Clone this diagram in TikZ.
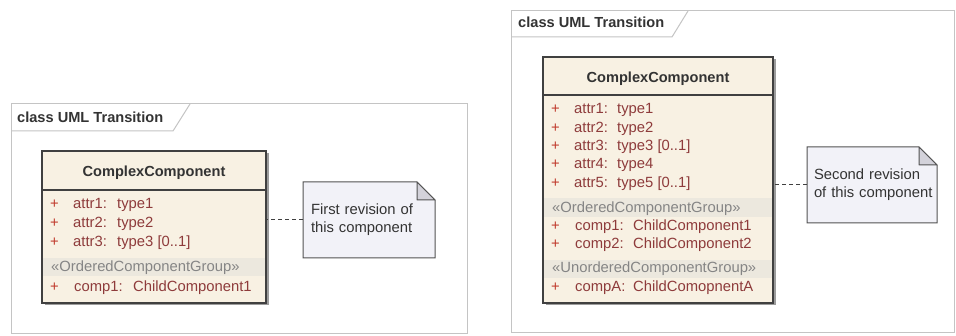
\documentclass[tikz,border=0pt]{standalone}
\usepackage{fontspec}
\setmainfont{Liberation Sans}
\usetikzlibrary{calc,shadows}
\definecolor{clsfill}{HTML}{F8F1E3}
\definecolor{bandfill}{HTML}{ECE8DE}
\definecolor{attrc}{HTML}{8E3B3B}
\definecolor{plusc}{HTML}{C0392B}
\definecolor{grpc}{HTML}{858585}
\definecolor{notefill}{HTML}{F2F2F8}
\definecolor{foldfill}{HTML}{D3D2DA}
\definecolor{framec}{HTML}{C4C4C4}
\definecolor{borderc}{HTML}{404040}
\definecolor{titlec}{HTML}{333333}
\tikzset{
  txt/.style={font=\fontsize{14.8}{18}\selectfont, inner sep=0pt, anchor=base west},
  plusmark/.style={txt, text=plusc},
  attrtxt/.style={txt, text=attrc},
  grptxt/.style={txt, text=grpc},
  frametitle/.style={txt, font=\fontsize{14.6}{18}\selectfont\bfseries, text=titlec},
  clstitle/.style={txt, anchor=base, font=\fontsize{14.6}{18}\selectfont\bfseries, text=titlec},
  framebox/.style={draw=framec, line width=1pt, inner sep=0pt, outer sep=0pt, anchor=north west},
  clsbox/.style={draw=borderc, fill=clsfill, line width=1.4pt, inner sep=0pt, outer sep=0pt, anchor=north west,
     drop shadow={shadow xshift=2.5pt, shadow yshift=-2.5pt, fill=black!55, opacity=0.7}},
  notebox/.style={inner sep=0pt, outer sep=0pt, anchor=north west, align=left,
     font=\fontsize{14.8}{18}\selectfont, text=black!80},
  noteline/.style={draw=borderc!90, fill=notefill, line width=1pt},
  foldline/.style={draw=borderc!90, fill=foldfill, line width=1pt, line join=round},
  link/.style={draw=borderc, line width=1pt, dash pattern=on 4pt off 3pt},
  band/.style={fill=bandfill}
}
\newcommand{\umlrow}[7]{%
  \node[plusmark] (#1p) at (#2,#5) {+};
  \node[attrtxt] (#1a) at (#3,#5) {#6};
  \node[attrtxt] (#1b) at (#4,#5) {#7};
}
\begin{document}
\begin{tikzpicture}[x=1pt,y=-1pt]
\useasboundingbox (0,0) rectangle (956,336);
\fill[white] (0,0) rectangle (956,336);

% ---------- left frame ----------
\node[framebox, minimum width=456pt, minimum height=230pt] (frm1) at (11,104) {};
\draw[framec, line width=1pt] (11,131) -- (173,131) -- (190,104);
\node[frametitle] (ft1) at (17,123) {class UML Transition};

\node[clsbox, minimum width=224pt, minimum height=152pt] (cls1) at (42,151) {};
\fill[band] (43,258) rectangle (265,276);
\draw[borderc, line width=1.2pt] (cls1.west |- 0,190) -- (cls1.east |- 0,190);
\draw[borderc, line width=1.4pt] (cls1.north west) rectangle (cls1.south east);
\node[clstitle] (ct1) at (154,177) {ComplexComponent};
\umlrow{l1}{50}{73}{117}{209}{attr1:}{type1}
\umlrow{l2}{50}{73}{117}{228}{attr2:}{type2}
\umlrow{l3}{50}{73}{117}{247}{attr3:}{type3 [0..1]}
\node[grptxt] (lg1) at (51,272) {«OrderedComponentGroup»};
\umlrow{l4}{50}{74}{133}{292}{comp1:}{ChildComponent1}

\node[notebox, minimum width=132pt, minimum height=76pt] (note1) at (303,182) {};
\draw[noteline] (note1.north west) -- ([xshift=-18pt]note1.north east) -- ([yshift=-18pt]note1.north east) -- (note1.south east) -- (note1.south west) -- cycle;
\draw[foldline] ([xshift=-18pt]note1.north east) -- ([xshift=-18pt,yshift=-18pt]note1.north east) -- ([yshift=-18pt]note1.north east) -- cycle;
\node[notebox, text width=116pt, anchor=center] (note1t) at (note1.center) {First revision of\\this component};
\draw[link] (note1.west) -- (note1.west -| cls1.east);

% ---------- right frame ----------
\node[framebox, minimum width=443pt, minimum height=322pt] (frm2) at (511,11) {};
\draw[framec, line width=1pt] (511,37) -- (672,37) -- (688,11);
\node[frametitle] (ft2) at (518,28) {class UML Transition};

\node[clsbox, minimum width=230pt, minimum height=246pt] (cls2) at (543,57) {};
\fill[band] (544,198) rectangle (772,217);
\fill[band] (544,260) rectangle (772,278);
\draw[borderc, line width=1.2pt] (cls2.west |- 0,95) -- (cls2.east |- 0,95);
\draw[borderc, line width=1.4pt] (cls2.north west) rectangle (cls2.south east);
\node[clstitle] (ct2) at (658,83) {ComplexComponent};
\umlrow{r1}{551}{574}{617}{114}{attr1:}{type1}
\umlrow{r2}{551}{574}{617}{133}{attr2:}{type2}
\umlrow{r3}{551}{574}{617}{151}{attr3:}{type3 [0..1]}
\umlrow{r4}{551}{574}{617}{169}{attr4:}{type4}
\umlrow{r5}{551}{574}{617}{188}{attr5:}{type5 [0..1]}
\node[grptxt] (rg1) at (552,213) {«OrderedComponentGroup»};
\umlrow{r6}{551}{575}{633}{231}{comp1:}{ChildComponent1}
\umlrow{r7}{551}{575}{633}{249}{comp2:}{ChildComponent2}
\node[grptxt] (rg2) at (552,273) {«UnorderedComponentGroup»};
\umlrow{r8}{551}{575}{633}{292}{compA:}{ChildComopnentA}

\node[notebox, minimum width=130pt, minimum height=76pt] (note2) at (807,147) {};
\draw[noteline] (note2.north west) -- ([xshift=-18pt]note2.north east) -- ([yshift=-18pt]note2.north east) -- (note2.south east) -- (note2.south west) -- cycle;
\draw[foldline] ([xshift=-18pt]note2.north east) -- ([xshift=-18pt,yshift=-18pt]note2.north east) -- ([yshift=-18pt]note2.north east) -- cycle;
\node[notebox, text width=120pt, anchor=center] (note2t) at ([xshift=2pt]note2.center) {Second revision\\of this component};
\draw[link] (note2.west) -- (note2.west -| cls2.east);
\end{tikzpicture}
\end{document}
